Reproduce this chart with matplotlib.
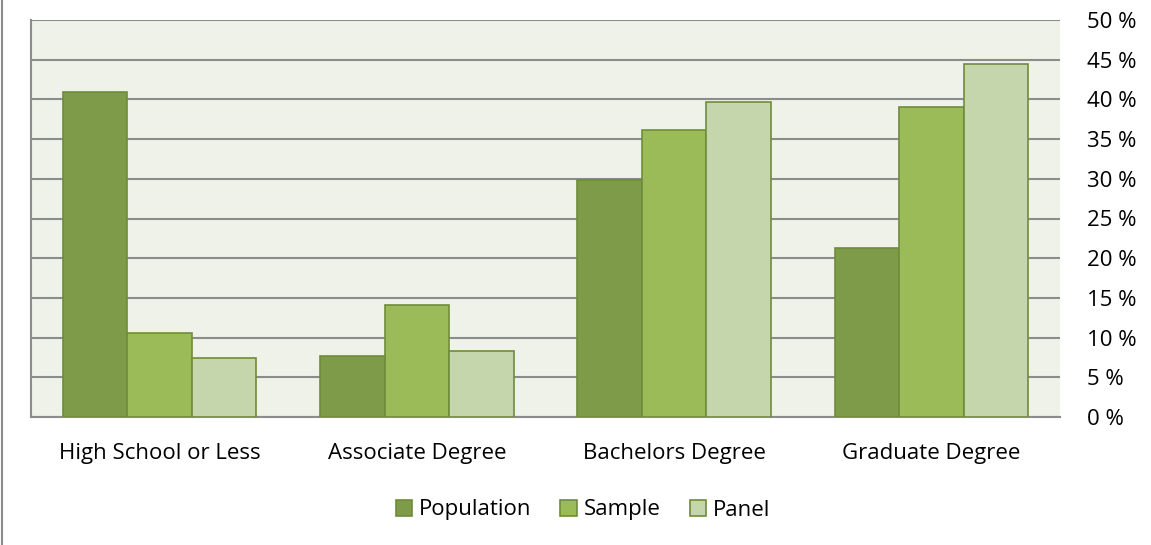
import matplotlib.pyplot as plt
import matplotlib.lines as mlines
import numpy as np

categories = ["High School or Less", "Associate Degree", "Bachelors Degree", "Graduate Degree"]
population = [40.9, 7.7, 29.8, 21.3]
sample = [10.6, 14.1, 36.1, 39.0]
panel = [7.4, 8.3, 39.7, 44.5]
series_names = ["Population", "Sample", "Panel"]
yticks = [0, 5, 10, 15, 20, 25, 30, 35, 40, 45, 50]

colors = ["#7D9B48", "#9BBB59", "#C6D6AC"]
edge = "#6F8C3A"

plt.rcParams['font.family'] = ['Open Sans', 'DejaVu Sans']

fig = plt.figure(figsize=(11.51, 5.45), dpi=100)
ax = fig.add_axes([31 / 1151, 1 - 417 / 545, (1060 - 31) / 1151, (417 - 20) / 545])
ax.set_facecolor("#EFF2E9")

x = np.arange(len(categories))
w = 0.251
for i, (vals, name) in enumerate(zip([population, sample, panel], series_names)):
    ax.bar(x + (i - 1) * w, vals, width=w, color=colors[i], edgecolor=edge,
           linewidth=1.2, label=name, zorder=3)

ax.set_xlim(-0.5, len(categories) - 0.5)
ax.set_ylim(0, 50)
ax.set_yticks(yticks)
ax.set_yticklabels([f"{t} %" for t in yticks])
ax.yaxis.tick_right()
ax.yaxis.grid(True, color="#8C8C8C", linewidth=1.5, zorder=1)
ax.set_xticks(x)
ax.set_xticklabels(categories)
ax.tick_params(axis='both', length=0, labelsize=16, colors="#000000")
ax.tick_params(axis='y', pad=19.5)
ax.tick_params(axis='x', pad=19)

for s in ["top", "right"]:
    ax.spines[s].set_visible(False)
ax.spines["left"].set_color("#8C8C8C")
ax.spines["left"].set_linewidth(1.5)
ax.spines["bottom"].set_color("#8C8C8C")
ax.spines["bottom"].set_linewidth(1.5)

fig.legend(loc="center", bbox_to_anchor=(583 / 1151, 1 - 510 / 545), ncol=3,
           frameon=False, fontsize=16, handlelength=0.75, handleheight=0.75,
           handletextpad=0.3, columnspacing=1.3)

fig.add_artist(mlines.Line2D([2 / 1151, 2 / 1151], [0, 1], color="#8C8C8C", linewidth=1.5))

fig.savefig("out.png", dpi=100)
